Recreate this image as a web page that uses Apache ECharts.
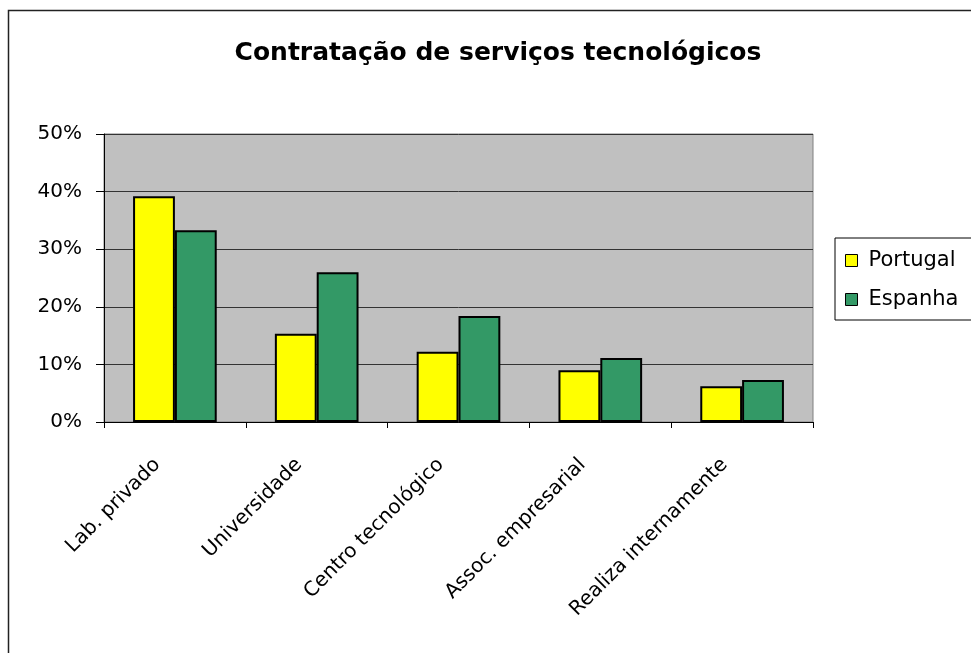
<!DOCTYPE html>
<html>
<head>
<meta charset="utf-8">
<script src="https://cdn.jsdelivr.net/npm/echarts@6/dist/echarts.min.js"></script>
<style>
  html, body { margin: 0; padding: 0; background: #fff; }
  #chart { width: 971px; height: 653px; }
</style>
</head>
<body>
<div id="chart"></div>
<script>
const categories = ['Lab. privado', 'Universidade', 'Centro tecnológico', 'Assoc. empresarial', 'Realiza internamente']
const portugal = [39.2, 15.3, 12.2, 9.0, 6.2]
const espanha = [33.3, 26.0, 18.4, 11.1, 7.3]
const seriesNames = ['Portugal', 'Espanha']

// the source text is wide (stretched Arial); DejaVu Sans comes closest
const FONT = '"DejaVu Sans", "Liberation Sans", Arial, sans-serif'
const COLORS = { portugal: '#ffff00', espanha: '#339966' }

const chart = echarts.init(document.getElementById('chart'), null, { renderer: 'canvas' })

chart.setOption({
  backgroundColor: '#fff',
  animation: false,
  textStyle: { fontFamily: FONT, color: '#000' },
  title: {
    text: 'Contratação de serviços tecnológicos',
    left: 493, top: 36, textAlign: 'center',
    textStyle: { fontFamily: FONT, fontSize: 25, fontWeight: 'bold', color: '#000' },
  },
  graphic: [{
    type: 'rect', silent: true, z: -1,
    shape: { x: 8.5, y: 10.5, width: 1000, height: 700 },
    style: { fill: 'none', stroke: '#222', lineWidth: 1.5 },
  }],
  legend: {
    data: seriesNames,
    orient: 'vertical',
    left: 835, top: 238,
    padding: [12, 40, 10, 10],
    itemGap: 18,
    itemWidth: 12, itemHeight: 12,
    icon: 'rect',
    borderColor: '#000', borderWidth: 1,
    backgroundColor: '#fff',
    itemStyle: { borderColor: '#000', borderWidth: 1 },
    textStyle: { fontFamily: FONT, fontSize: 21, color: '#000', padding: [0, 0, 0, 6] },
  },
  grid: {
    left: 104, right: 158, top: 134, bottom: 231,
    show: true, backgroundColor: '#c0c0c0', borderColor: '#808080', borderWidth: 1,
  },
  xAxis: {
    type: 'category', data: categories,
    axisLine: { lineStyle: { color: '#000', width: 1 } },
    axisTick: { show: true, interval: 0, length: 6, lineStyle: { color: '#000' } },
    // padding on the right slides the rotated labels down-left like Excel places them
    axisLabel: { interval: 0, rotate: 45, margin: 22, padding: [0, 25, 0, 0], fontFamily: FONT, fontSize: 20, color: '#000' },
  },
  yAxis: {
    type: 'value', min: 0, max: 50, interval: 10,
    axisLine: { show: true, lineStyle: { color: '#000', width: 1 } },
    axisTick: { show: true, length: 8, lineStyle: { color: '#000' } },
    axisLabel: { formatter: '{value}%', margin: 22, fontFamily: FONT, fontSize: 20, color: '#000' },
    splitLine: { lineStyle: { color: '#333', width: 1 } },
  },
  series: [
    {
      name: 'Portugal', type: 'bar', data: portugal,
      barGap: '0%', barCategoryGap: '41%',
      itemStyle: { color: COLORS.portugal, borderColor: '#000', borderWidth: 2 },
    },
    {
      name: 'Espanha', type: 'bar', data: espanha,
      barGap: '0%', barCategoryGap: '41%',
      itemStyle: { color: COLORS.espanha, borderColor: '#000', borderWidth: 2 },
    },
  ],
})
</script>
</body>
</html>
